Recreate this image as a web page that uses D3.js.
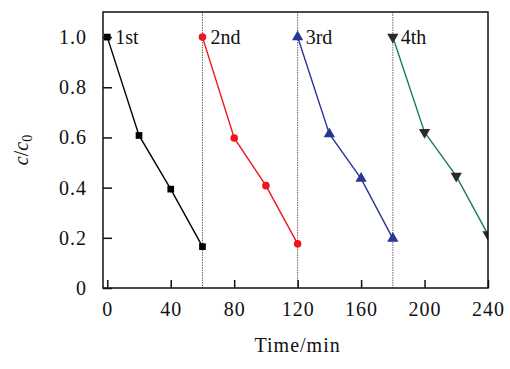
<!DOCTYPE html>
<html>
<head>
<meta charset="utf-8">
<script src="https://cdn.jsdelivr.net/npm/d3@7"></script>
<style>
  body { margin: 0; background: #fff; }
  text { font-family: "Liberation Serif", "Times New Roman", serif; }
</style>
</head>
<body>
<div id="chart"></div>
<script>
// data
var runLabels = ['1st', '2nd', '3rd', '4th'];
var run1 = [[0, 1.0], [20, 0.608], [40, 0.394], [60, 0.165]];
var run2 = [[60, 1.0], [80, 0.598], [100, 0.408], [120, 0.176]];
var run3 = [[120, 1.0], [140, 0.614], [160, 0.436], [180, 0.197]];
var run4 = [[180, 1.0], [200, 0.621], [220, 0.446], [240, 0.213]];
var dividers = [60, 120, 180];
var xTicks = [0, 40, 80, 120, 160, 200, 240];
var yTicks = [0, 0.2, 0.4, 0.6, 0.8, 1.0];

var series = [
  { name: runLabels[0], pts: run1, line: '#000', fill: '#000', sym: d3.symbolSquare, size: 45, rot: 0 },
  { name: runLabels[1], pts: run2, line: '#f0141e', fill: '#f0141e', sym: d3.symbolCircle, size: 45, rot: 0 },
  { name: runLabels[2], pts: run3, line: '#2b3595', fill: '#2b3595', sym: d3.symbolTriangle, size: 55, rot: 0 },
  { name: runLabels[3], pts: run4, line: '#1f7a6c', fill: '#2a2a2a', sym: d3.symbolTriangle, size: 55, rot: 180 }
];

var width = 510, height = 369;
var margin = { left: 103, top: 12, right: 22, bottom: 81 };
var iw = width - margin.left - margin.right;
var ih = height - margin.top - margin.bottom;

var svg = d3.select('#chart').append('svg')
  .attr('width', width)
  .attr('height', height);

var g = svg.append('g')
  .attr('transform', 'translate(' + margin.left + ',' + margin.top + ')');

var x = d3.scaleLinear().domain([-2.7, 240]).range([0, iw]);
var y = d3.scaleLinear().domain([0, 1.1]).range([ih, 0]);

g.append('clipPath').attr('id', 'clip')
  .append('rect').attr('width', iw).attr('height', ih);

// dotted dividers
g.selectAll('.div')
  .data(dividers)
  .enter().append('line')
  .attr('x1', function(d) { return x(d); })
  .attr('x2', function(d) { return x(d); })
  .attr('y1', 0).attr('y2', ih)
  .attr('stroke', '#666')
  .attr('stroke-width', 1)
  .attr('stroke-dasharray', '1.5,1');

var plot = g.append('g').attr('clip-path', 'url(#clip)');

var line = d3.line()
  .x(function(d) { return x(d[0]); })
  .y(function(d) { return y(d[1]); });

series.forEach(function(s) {
  plot.append('path')
    .datum(s.pts)
    .attr('fill', 'none')
    .attr('stroke', s.line)
    .attr('stroke-width', 1.4)
    .attr('d', line);

  plot.selectAll(null)
    .data(s.pts)
    .enter().append('path')
    .attr('d', d3.symbol().type(s.sym).size(s.size))
    .attr('fill', s.fill)
    .attr('transform', function(d) {
      return 'translate(' + x(d[0]) + ',' + y(d[1]) + ') rotate(' + s.rot + ')';
    });

  g.append('text')
    .attr('x', x(s.pts[0][0]) + 8)
    .attr('y', y(1.0) + 7)
    .attr('font-size', 20)
    .attr('fill', '#111')
    .text(s.name);
});

// axes
var xAxis = d3.axisBottom(x).tickValues(xTicks).tickSizeInner(-8).tickSizeOuter(0).tickPadding(14);
var yAxis = d3.axisLeft(y).tickValues(yTicks).tickSizeInner(-9).tickSizeOuter(0).tickPadding(16)
  .tickFormat(function(d) { return d === 0 ? '0' : d3.format('.1f')(d); });

var gx = g.append('g').attr('transform', 'translate(0,' + ih + ')').call(xAxis);
var gy = g.append('g').call(yAxis);

[gx, gy].forEach(function(a) {
  a.select('.domain').remove();
  a.selectAll('.tick line').attr('stroke', '#111').attr('stroke-width', 1.5);
  a.selectAll('.tick text')
    .attr('font-size', 20)
    .attr('fill', '#111')
    .attr('letter-spacing', 1)
    .style('font-family', '"Liberation Serif", serif');
});

// frame
g.append('rect')
  .attr('width', iw).attr('height', ih)
  .attr('fill', 'none')
  .attr('stroke', '#111')
  .attr('stroke-width', 1.5);

// axis titles
g.append('text')
  .attr('x', x(120))
  .attr('y', ih + 64)
  .attr('text-anchor', 'middle')
  .attr('font-size', 20)
  .attr('letter-spacing', 1)
  .attr('fill', '#111')
  .text('Time/min');

var yl = svg.append('text')
  .attr('transform', 'translate(28,150) rotate(-90)')
  .attr('text-anchor', 'middle')
  .attr('font-size', 20)
  .attr('fill', '#111');
yl.append('tspan').attr('font-style', 'italic').text('c');
yl.append('tspan').text('/');
yl.append('tspan').attr('font-style', 'italic').text('c');
yl.append('tspan').attr('font-size', 14).attr('dy', 4).text('0');
</script>
</body>
</html>
